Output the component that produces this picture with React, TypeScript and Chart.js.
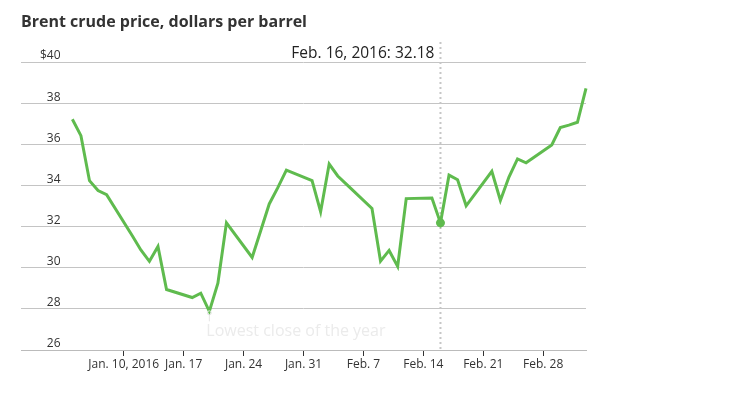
import React, { useEffect, useRef } from "react";
import { Chart, registerables } from "chart.js";

Chart.register(...registerables);

// Trading days (Brent close, dollars per barrel)
const dates: string[] = [
  "2016-01-04", "2016-01-05", "2016-01-06", "2016-01-07", "2016-01-08",
  "2016-01-11", "2016-01-12", "2016-01-13", "2016-01-14", "2016-01-15",
  "2016-01-18", "2016-01-19", "2016-01-20", "2016-01-21", "2016-01-22",
  "2016-01-25", "2016-01-26", "2016-01-27", "2016-01-28", "2016-01-29",
  "2016-02-01", "2016-02-02", "2016-02-03", "2016-02-04", "2016-02-05",
  "2016-02-08", "2016-02-09", "2016-02-10", "2016-02-11", "2016-02-12",
  "2016-02-15", "2016-02-16", "2016-02-17", "2016-02-18", "2016-02-19",
  "2016-02-22", "2016-02-23", "2016-02-24", "2016-02-25", "2016-02-26",
  "2016-02-29", "2016-03-01", "2016-03-02", "2016-03-03", "2016-03-04",
];

const prices: number[] = [
  37.22, 36.42, 34.23, 33.75, 33.55,
  31.55, 30.86, 30.31, 31.03, 28.94,
  28.55, 28.76, 27.88, 29.25, 32.18,
  30.5, 31.8, 33.1, 33.89, 34.74,
  34.24, 32.72, 35.04, 34.46, 34.06,
  32.88, 30.32, 30.84, 30.06, 33.36,
  33.39, 32.18, 34.5, 34.28, 33.01,
  34.69, 33.27, 34.41, 35.29, 35.1,
  35.97, 36.81, 36.93, 37.07, 38.72,
];

const xTickDates: string[] = [
  "2016-01-10", "2016-01-17", "2016-01-24", "2016-01-31",
  "2016-02-07", "2016-02-14", "2016-02-21", "2016-02-28",
];
const xTickLabels: string[] = [
  "Jan. 10, 2016", "Jan. 17", "Jan. 24", "Jan. 31",
  "Feb. 7", "Feb. 14", "Feb. 21", "Feb. 28",
];

const yTickValues: number[] = [26, 28, 30, 32, 34, 36, 38, 40];
const yTickLabels: string[] = ["26", "28", "30", "32", "34", "36", "38", "$40"];

const title = "Brent crude price, dollars per barrel";
const highlightDate = "2016-02-16";
const highlightLabel = "Feb. 16, 2016: 32.18";
const lowDate = "2016-01-20";
const lowLabel = "Lowest close of the year";

const GREEN = "#5fbb4e";
const FONT = "'Open Sans', 'Noto Sans', sans-serif";

const dayIndex = (d: string) =>
  Math.round((Date.UTC(+d.slice(0, 4), +d.slice(5, 7) - 1, +d.slice(8, 10)) - Date.UTC(2016, 0, 1)) / 86400000);

export default function App() {
  const ref = useRef<HTMLCanvasElement | null>(null);

  useEffect(() => {
    if (!ref.current) return;
    const xs = dates.map(dayIndex);
    const points = xs.map((x, i) => ({ x, y: prices[i] }));
    const hiIdx = dates.indexOf(highlightDate);
    const loIdx = dates.indexOf(lowDate);
    const tickXs = xTickDates.map(dayIndex);

    const overlay = {
      id: "overlay",
      beforeDatasetsDraw(chart: any) {
        const { ctx, chartArea, scales } = chart;
        const x = scales.x.getPixelForValue(xs[hiIdx]);
        ctx.save();
        ctx.strokeStyle = "#c6c6c6";
        ctx.lineWidth = 2;
        ctx.setLineDash([2, 3]);
        ctx.beginPath();
        ctx.moveTo(x, 34);
        ctx.lineTo(x, chartArea.bottom);
        ctx.stroke();
        ctx.restore();
      },
      afterDatasetsDraw(chart: any) {
        const { ctx, scales } = chart;
        ctx.save();
        // title
        ctx.fillStyle = "#333";
        ctx.font = `bold 16px ${FONT}`;
        ctx.textAlign = "left";
        ctx.textBaseline = "alphabetic";
        ctx.fillText(title, 13, 19);
        // highlight annotation
        const hx = scales.x.getPixelForValue(xs[hiIdx]);
        ctx.fillStyle = "#222";
        ctx.font = `15.5px ${FONT}`;
        ctx.textAlign = "right";
        ctx.textBaseline = "middle";
        ctx.fillText(highlightLabel, hx - 6, 46);
        // low marker
        const lx = scales.x.getPixelForValue(xs[loIdx]);
        const ly = scales.y.getPixelForValue(prices[loIdx]);
        ctx.strokeStyle = "#e4e4e4";
        ctx.lineWidth = 1;
        ctx.beginPath();
        ctx.arc(lx, ly + 1.5, 2, 0, Math.PI * 2);
        ctx.stroke();
        ctx.beginPath();
        ctx.moveTo(lx, ly + 3.5);
        ctx.lineTo(lx, ly + 10);
        ctx.stroke();
        ctx.fillStyle = "#ebebeb";
        ctx.font = `16px ${FONT}`;
        ctx.textAlign = "left";
        ctx.textBaseline = "middle";
        ctx.fillText(lowLabel, lx - 3, ly + 20);
        ctx.restore();
      },
    };

    const chart = new Chart(ref.current, {
      type: "line",
      data: {
        datasets: [
          {
            data: points,
            borderColor: GREEN,
            borderWidth: 3,
            backgroundColor: GREEN,
            pointRadius: points.map((_, i) => (i === hiIdx ? 4.5 : 0)),
            pointBackgroundColor: GREEN,
            pointBorderWidth: 0,
            tension: 0,
            clip: false as any,
          },
        ],
      },
      options: {
        animation: false,
        responsive: true,
        maintainAspectRatio: false,
        events: [],
        layout: { padding: { left: 13, right: 136, top: 54, bottom: 18.6 } },
        plugins: { legend: { display: false }, tooltip: { enabled: false }, title: { display: false } },
        scales: {
          x: {
            type: "linear",
            min: -3,
            max: 63,
            afterBuildTicks: (scale: any) => {
              scale.ticks = tickXs.map((v) => ({ value: v }));
            },
            ticks: {
              autoSkip: false,
              maxRotation: 0,
              padding: 1,
              color: "#333",
              font: { family: FONT, size: 12 },
              callback: (v: any) => {
                const i = tickXs.indexOf(Number(v));
                return i >= 0 ? xTickLabels[i] : "";
              },
            },
            grid: {
              display: true,
              drawOnChartArea: false,
              drawTicks: true,
              tickLength: 6,
              tickColor: "#333",
              tickWidth: 1,
            },
            border: { display: true, color: "#bbbbbb", width: 1 },
          },
          y: {
            type: "linear",
            min: 26,
            max: 40,
            afterBuildTicks: (scale: any) => {
              scale.ticks = yTickValues.map((v) => ({ value: v }));
            },
            afterFit: (scale: any) => {
              scale.width = 0;
            },
            ticks: {
              mirror: true,
              crossAlign: "far",
              padding: 19,
              labelOffset: -6,
              color: "#333",
              font: { family: FONT, size: 12 },
              callback: (v: any) => {
                const i = yTickValues.indexOf(Number(v));
                return i >= 0 ? yTickLabels[i] : "";
              },
            },
            grid: { color: "#c4c4c4", lineWidth: 1, drawTicks: false },
            border: { display: false },
          },
        },
      },
      plugins: [overlay],
    });
    return () => chart.destroy();
  }, []);

  return (
    <div style={{ width: 714, height: 383, position: "relative" }}>
      <canvas ref={ref} />
    </div>
  );
}
